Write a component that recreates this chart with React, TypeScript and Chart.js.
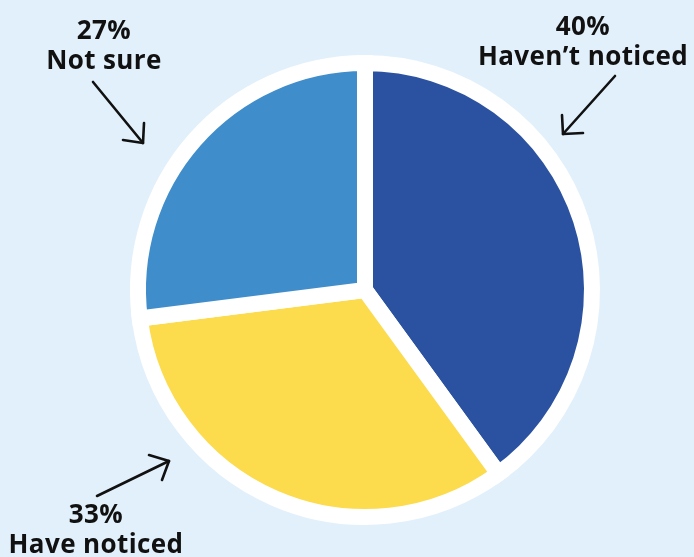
import React, { useEffect, useRef } from "react";
import { Chart, registerables } from "chart.js";

Chart.register(...registerables);

const categories = ["Haven\u2019t noticed", "Have noticed", "Not sure"];
const values = [40, 33, 27];
const colors = ["#2B52A0", "#FCDB4C", "#3F8DCA"];

const labelStyle: React.CSSProperties = {
  position: "absolute",
  fontFamily: "'Open Sans', sans-serif",
  fontWeight: 700,
  fontSize: 26,
  letterSpacing: 0.4,
  lineHeight: "30px",
  color: "#111",
  textAlign: "center",
  whiteSpace: "nowrap",
};

export default function App() {
  const ref = useRef<HTMLCanvasElement | null>(null);
  useEffect(() => {
    document.body.style.margin = "0";
    const chart = new Chart(ref.current!, {
      type: "pie",
      data: {
        labels: categories,
        datasets: [
          {
            data: values,
            backgroundColor: colors,
            borderColor: "#FFFFFF",
            borderWidth: 16,
            borderJoinStyle: "miter",
          },
        ],
      },
      options: {
        animation: false,
        responsive: false,
        layout: { padding: { left: 130, right: 94, top: 55, bottom: 32 } },
        plugins: { legend: { display: false }, tooltip: { enabled: false } },
      },
    });
    return () => chart.destroy();
  }, []);

  const arrow = (pts: number[][]) => (
    <g>
      <line x1={pts[0][0]} y1={pts[0][1]} x2={pts[1][0]} y2={pts[1][1]} />
      <polyline points={`${pts[2][0]},${pts[2][1]} ${pts[1][0]},${pts[1][1]} ${pts[3][0]},${pts[3][1]}`} fill="none" />
    </g>
  );

  return (
    <div style={{ position: "absolute", left: 0, top: 0, width: 694, height: 557, background: "#E2F0FB", overflow: "hidden" }}>
      <canvas ref={ref} width={694} height={557} style={{ position: "absolute", left: 0, top: 0 }} />
      <svg width={694} height={557} style={{ position: "absolute", left: 0, top: 0 }} stroke="#111" strokeWidth={2.6} strokeLinecap="round" strokeLinejoin="round">
        {arrow([[93, 82], [143, 143], [144, 123], [123, 140]])}
        {arrow([[615, 76], [563, 134], [562, 115], [583, 133]])}
        {arrow([[97, 496], [169, 461], [149, 455], [162, 480]])}
      </svg>
      <div style={{ ...labelStyle, left: 104, top: 14, transform: "translateX(-50%)" }}>
        27%<br />Not sure
      </div>
      <div style={{ ...labelStyle, left: 583, top: 10, transform: "translateX(-50%)" }}>
        40%<br />Haven’t noticed
      </div>
      <div style={{ ...labelStyle, left: 96, top: 498, transform: "translateX(-50%)" }}>
        33%<br />Have noticed
      </div>
    </div>
  );
}
